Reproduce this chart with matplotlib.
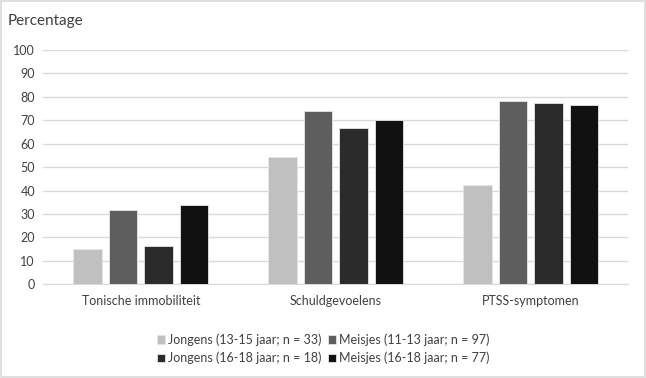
import numpy as np
import matplotlib.pyplot as plt
from matplotlib.patches import Rectangle

categories = ["Tonische immobiliteit", "Schuldgevoelens", "PTSS-symptomen"]
series_names = [
    "Jongens (13-15 jaar; n = 33)",
    "Meisjes (11-13 jaar; n = 97)",
    "Jongens (16-18 jaar; n = 18)",
    "Meisjes (16-18 jaar; n = 77)",
]
jongens_13_15 = [15, 54.3, 42.3]
meisjes_11_13 = [31.8, 74.1, 78.2]
jongens_16_18 = [16.5, 66.6, 77.5]
meisjes_16_18 = [33.7, 70.0, 76.4]
yticks = [0, 10, 20, 30, 40, 50, 60, 70, 80, 90, 100]

colors = ["#c0c0c0", "#5e5e5e", "#2b2b2b", "#111111"]
text_col = "#404040"

plt.rcParams["font.family"] = ["Lato", "DejaVu Sans"]

fig = plt.figure(figsize=(6.46, 3.78), dpi=100)
ax = fig.add_axes([0.067, 0.248, 0.9055, 0.620])

x = np.arange(len(categories))
width = 0.145
pitch = 0.182
all_series = [jongens_13_15, meisjes_11_13, jongens_16_18, meisjes_16_18]
bars = []
for i, vals in enumerate(all_series):
    b = ax.bar(x + (i - 1.5) * pitch, vals, width, color=colors[i],
               edgecolor="#e6e6e6", linewidth=0.6, label=series_names[i], zorder=3)
    bars.append(b)

ax.set_xlim(-0.5, 2.5)
ax.set_ylim(0, 100)
ax.set_yticks(yticks)
ax.set_xticks(x)
ax.set_xticklabels(categories)
ax.grid(axis="y", color="#d9d9d9", linewidth=1, zorder=0)
ax.tick_params(axis="both", length=0, labelsize=9, colors=text_col)
ax.tick_params(axis="x", pad=8)
ax.tick_params(axis="y", pad=6)
for s in ["top", "right", "left"]:
    ax.spines[s].set_visible(False)
ax.spines["bottom"].set_color("#d9d9d9")

fig.text(0.012, 0.962, "Percentage", fontsize=11, color=text_col, va="top", ha="left")

order = [0, 2, 1, 3]
leg = fig.legend([bars[i] for i in order], [series_names[i] for i in order],
                 ncol=2, loc="center", bbox_to_anchor=(0.5, 0.077), frameon=False,
                 fontsize=9, handlelength=0.7, handleheight=0.7, handletextpad=0.2,
                 columnspacing=0.5, labelspacing=0.45, labelcolor=text_col)

fig.patches.append(Rectangle((0.002, 0.003), 0.996, 0.994, transform=fig.transFigure,
                             fill=False, edgecolor="#d9d9d9", linewidth=1.2))

fig.savefig("out.png", dpi=100)
